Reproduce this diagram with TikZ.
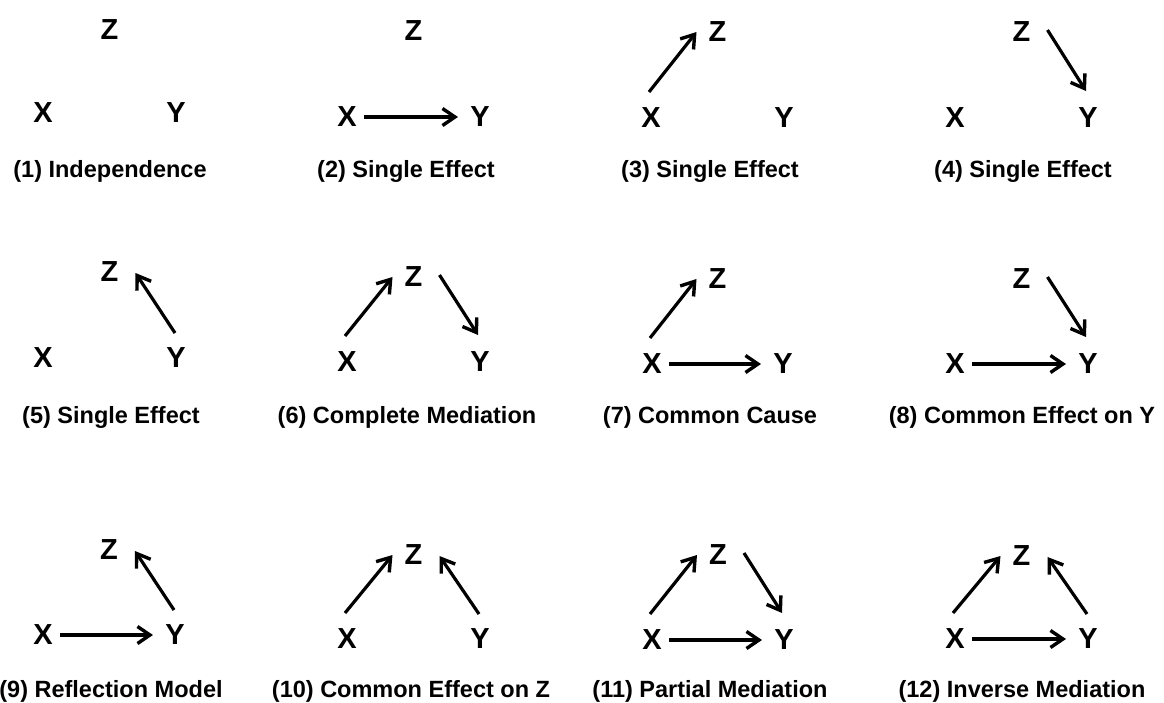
\documentclass[tikz,border=0pt]{standalone}
\usepackage{fontspec}
\setmainfont{Liberation Sans}
\usetikzlibrary{arrows.meta}
\newcommand\arrXZ[1]{\draw[arr] ([shift={(-2,-26)}]X#1.center) -- ([shift={(-21,0)}]Z#1.center);}
\newcommand\arrZY[1]{\draw[arr] ([shift={(26,-2)}]Z#1.center) -- ([shift={(-2,-27)}]Y#1.center);}
\newcommand\arrYZ[1]{\draw[arr] ([shift={(-1,-25)}]Y#1.center) -- ([shift={(26,1)}]Z#1.center);}
\newcommand\arrXY[1]{\draw[arr] ([shift={(17,0)}]X#1.center) -- ([shift={(-22,0)}]Y#1.center);}
\newcommand\panelnodes[8]{%
  \node[v] (X#1) at (#2,#4) {X};
  \node[v] (Y#1) at (#3,#4) {Y};
  \node[v] (Z#1) at ({(#2+#3)/2},#5) {Z};
  \node[lab] (L#1) at (#6,#7) {#8};
}
\begin{document}
\begin{tikzpicture}[x=1pt,y=-1pt,
  v/.style={font=\fontsize{29}{29}\selectfont\bfseries, inner sep=0pt},
  lab/.style={font=\fontsize{23.5}{23.5}\selectfont\bfseries, anchor=base, inner sep=0pt},
  arr/.style={line width=3.2pt, -{Straight Barb[length=12.5pt,width=17pt,line width=3.4pt]}}]
\useasboundingbox (0,0) rectangle (1164,702);
% row 1
\panelnodes{1}{43}{176}{113}{30}{110}{177}{(1) Independence}
\panelnodes{2}{347}{480}{117}{31}{406}{177}{(2) Single Effect}
\panelnodes{3}{651}{784}{118}{32}{710}{177}{(3) Single Effect}
\panelnodes{4}{955}{1088}{118}{32}{1023}{177}{(4) Single Effect}
% row 2
\panelnodes{5}{43}{176}{358}{272}{111}{423}{(5) Single Effect}
\panelnodes{6}{347}{480}{362}{277}{407}{423}{(6) Complete Mediation}
\panelnodes{7}{652}{783}{364}{279}{710}{423}{(7) Common Cause}
\panelnodes{8}{955}{1088}{364}{279}{1022}{423}{(8) Common Effect on Y}
% row 3
\panelnodes{9}{43}{175}{635}{550}{111}{697}{(9) Reflection Model}
\panelnodes{10}{347}{480}{639}{555}{411}{697}{(10) Common Effect on Z}
\panelnodes{11}{652}{784}{640}{555}{710}{697}{(11) Partial Mediation}
\panelnodes{12}{955}{1088}{639}{556}{1022}{697}{(12) Inverse Mediation}
% arrows
\arrXY{2}
\arrXZ{3}
\arrZY{4}
\arrYZ{5}
\arrXZ{6} \arrZY{6}
\arrXZ{7} \arrXY{7}
\arrZY{8} \arrXY{8}
\arrXY{9} \arrYZ{9}
\arrXZ{10} \arrYZ{10}
\arrXZ{11} \arrZY{11} \arrXY{11}
\arrXZ{12} \arrYZ{12} \arrXY{12}
\end{tikzpicture}
\end{document}
